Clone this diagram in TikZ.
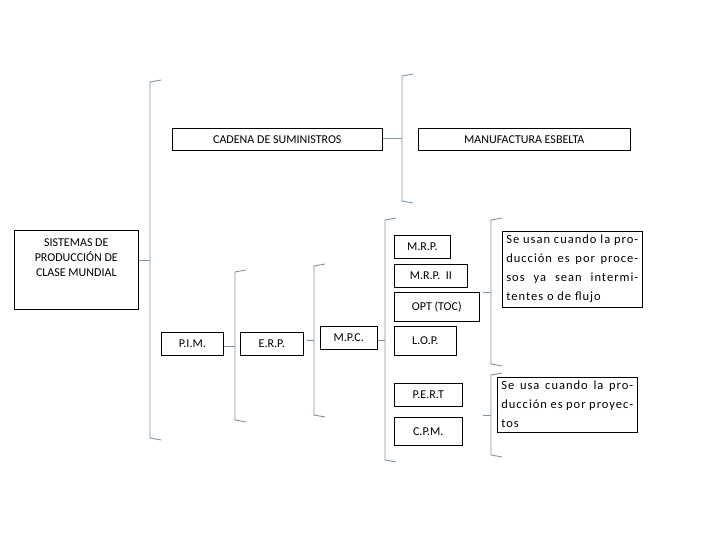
\documentclass[tikz,border=0pt]{standalone}
\usepackage{fontspec}
\setmainfont{Carlito}
\usetikzlibrary{positioning}
\definecolor{bracecol}{HTML}{7E93A6}
\newcommand{\brc}[4]{% x, top, bottom, name of tip
  \draw[brace] (#1+11,#2) -- (#1,#2+2) -- (#1,#3-2) -- (#1+11,#3);
  \coordinate (#4) at (#1,{(#2+#3)/2});}
\begin{document}
\begin{tikzpicture}[x=1pt,y=-1pt,font=\fontsize{12}{15}\selectfont]
  \tikzstyle {box} = [draw, line width=0.6pt, inner sep=2pt, anchor=north west]
  \tikzstyle {brace} = [draw=bracecol, line width=0.9pt]
  \tikzstyle {note} = [box, text width=132pt, align=justify, inner sep=4pt, font=\fontsize{12.5}{19}\selectfont\addfontfeatures{LetterSpace=8}]
  \useasboundingbox (0,0) rectangle (720,540);

  % boxes
  \node[box, minimum width=124pt, minimum height=79pt, align=center, text depth=24pt] (scm) at (14,230)
    {SISTEMAS DE\\PRODUCCIÓN DE\\CLASE MUNDIAL};
  \node[box, minimum width=210pt, minimum height=22pt] (cad) at (172,128) {CADENA DE SUMINISTROS};
  \node[box, minimum width=212pt, minimum height=22pt] (man) at (418,128) {MANUFACTURA ESBELTA};
  \node[box, minimum width=62pt, minimum height=23pt] (pim) at (161,332) {P.I.M.};
  \node[box, minimum width=63pt, minimum height=23pt] (erp) at (240,332) {E.R.P.};
  \node[box, minimum width=57pt, minimum height=23pt] (mpc) at (320,326) {M.P.C.};
  \node[box, minimum width=56pt, minimum height=23pt] (mrp) at (394,235) {M.R.P.};
  \node[box, minimum width=73pt, minimum height=23pt] (mrp2) at (394,264) {M.R.P.~~II};
  \node[box, minimum width=85pt, minimum height=29pt] (opt) at (394,292) {OPT (TOC)};
  \node[box, minimum width=62pt, minimum height=29pt] (lop) at (394,326) {L.O.P.};
  \node[box, minimum width=68pt, minimum height=23pt] (pert) at (394,383) {P.E.R.T};
  \node[box, minimum width=68pt, minimum height=28pt] (cpm) at (394,417) {C.P.M.};
  \node[note] (txa) at (502,231) {Se usan cuando la producción es por procesos ya sean intermitentes o de flujo};
  \node[note] (txb) at (497,377) {Se usa cuando la producción es por proyectos};

  % braces
  \brc{150}{80}{440}{b1}
  \brc{402}{74}{203}{b2}
  \brc{235}{270}{422}{b3}
  \brc{314}{264}{417}{b4}
  \brc{385}{218}{462}{b5}
  \brc{491}{218}{366}{b6}
  \brc{491}{373}{457}{b7}

  % ticks
  \draw[brace] (scm.east |- b1) -- (b1);
  \draw[brace] (cad.east |- b2) -- (b2);
  \draw[brace] (pim.east |- b3) -- (b3);
  \draw[brace] (erp.east |- b4) ++(3,0) -- (b4);
  \draw[brace] (mpc.east |- b5) -- (b5);
  \draw[brace] (b6) -- ++(-8,0);
  \draw[brace] (b7) -- ++(-8,0);
\end{tikzpicture}
\end{document}
